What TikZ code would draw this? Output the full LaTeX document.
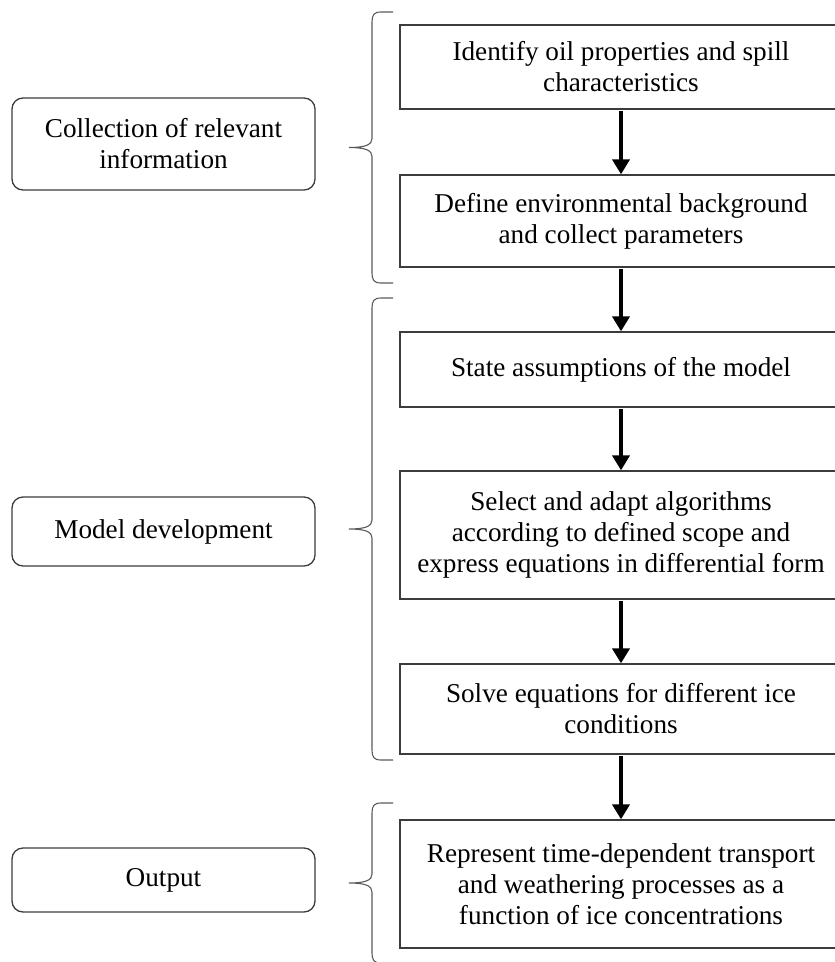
\documentclass[tikz,border=0pt]{standalone}
\usepackage{fontspec}
\setmainfont{Liberation Serif}
\usetikzlibrary{arrows.meta}
\usepackage{xcolor}
\definecolor{boxLine}{HTML}{3C3C3C}
\definecolor{braceLine}{HTML}{5A5A5A}

% curly group brace: #1 = top, #2 = bottom (in px, y grows downwards)
\newcommand{\groupBrace}[2]{%
  \pgfmathsetmacro{\braceMid}{(#1+#2)/2}
  \draw [groupBraceLine] (393,#1) -- (381,#1)
    .. controls (374,#1) and (372,#1+3) .. (372,#1+10)
    -- (372,\braceMid-9)
    .. controls (372,\braceMid-3) and (366,\braceMid) .. (349,\braceMid)
    .. controls (366,\braceMid) and (372,\braceMid+3) .. (372,\braceMid+9)
    -- (372,#2-10)
    .. controls (372,#2-3) and (374,#2) .. (381,#2) -- (393,#2);
}

\begin{document}
\begin{tikzpicture}[
  x=1pt,y=-1pt,
  font=\fontsize{27.2}{31}\selectfont,
  every node/.style={align=center},
  stepBox/.style={draw=boxLine,line width=1.3pt,rectangle,minimum width=442pt,inner sep=0pt},
  phaseBox/.style={draw=boxLine,line width=1.3pt,rectangle,rounded corners=11pt,minimum width=303pt,inner sep=0pt},
  flowArrow/.style={-{Triangle[width=17pt,length=15pt]},line width=4.2pt,black,shorten <=1pt},
  groupBraceLine/.style={draw=braceLine,line width=1.1pt}]

  \useasboundingbox (0,0) rectangle (835,962);

  % steps of the procedure
  \node[stepBox,minimum height=84pt] (sIdentify) at (621,67) {Identify oil properties and spill\\characteristics};
  \node[stepBox,minimum height=92pt] (sDefine) at (621,221) {Define environmental background\\and collect parameters};
  \node[stepBox,minimum height=75pt] (sState) at (621,369.5) {State assumptions of the model};
  \node[stepBox,minimum height=128pt] (sSelect) at (621,535) {Select and adapt algorithms\\according to defined scope and\\express equations in differential form};
  \node[stepBox,minimum height=90pt] (sSolve) at (621,709) {Solve equations for different ice\\conditions};
  \node[stepBox,minimum height=128pt] (sRepresent) at (621,884) {Represent time-dependent transport\\and weathering processes as a\\function of ice concentrations};

  % phases
  \node[phaseBox,minimum height=92pt] (pCollection) at (163.5,144) {Collection of relevant\\information};
  \node[phaseBox,minimum height=69pt] (pModel) at (163.5,531.5) {Model development};
  \node[phaseBox,minimum height=64pt] (pOutput) at (163.5,880) {Output};

  % step to step
  \draw [flowArrow] (sIdentify) -- (sDefine);
  \draw [flowArrow] (sDefine) -- (sState);
  \draw [flowArrow] (sState) -- (sSelect);
  \draw [flowArrow] (sSelect) -- (sSolve);
  \draw [flowArrow] (sSolve) -- (sRepresent);

  % braces grouping the steps
  \groupBrace{12}{283}
  \groupBrace{298}{760}
  \groupBrace{803}{963}
\end{tikzpicture}
\end{document}
